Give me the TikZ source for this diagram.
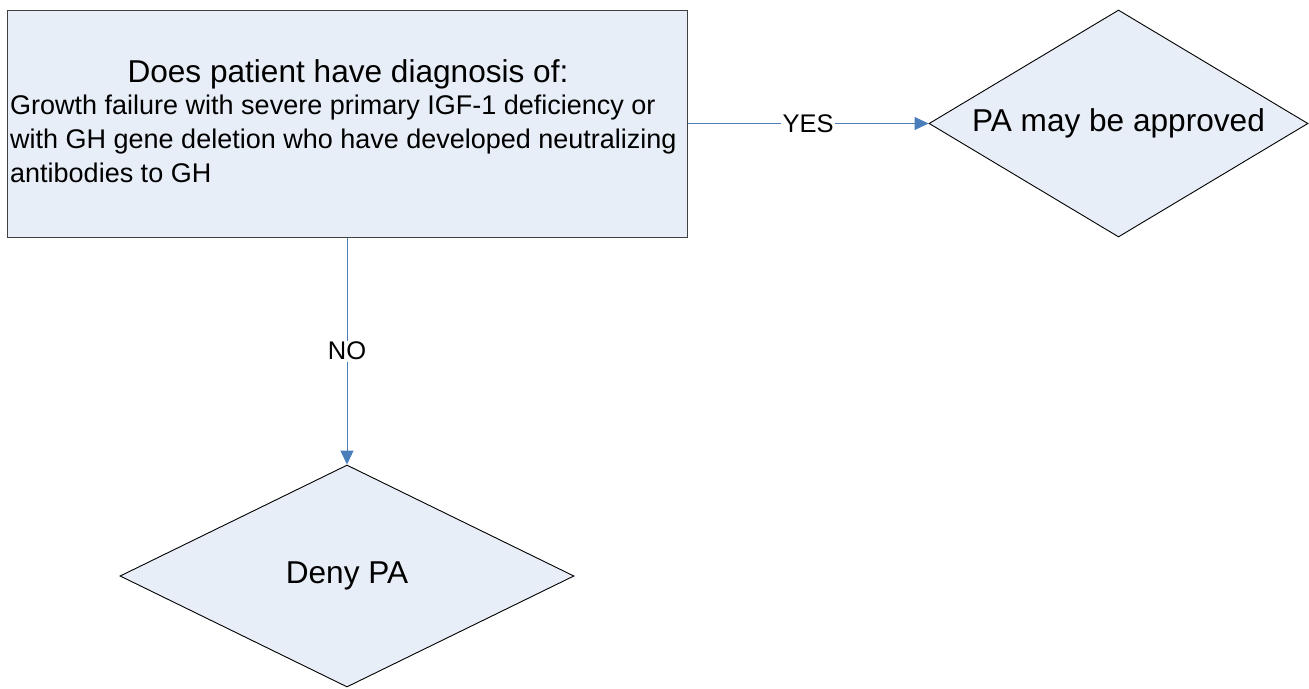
\documentclass[tikz,border=0pt]{standalone}
\usepackage{fontspec}
\setmainfont{Liberation Sans}
\usetikzlibrary{shapes.geometric,arrows.meta}
\definecolor{boxfill}{RGB}{232,238,247}
\definecolor{linkblue}{RGB}{74,126,187}
\begin{document}
\begin{tikzpicture}[x=1pt,y=-1pt,
  box/.style={draw=black!75,line width=1pt,fill=boxfill,inner sep=0pt},
  decision/.style={shape=diamond,draw=black,line width=0.9pt,fill=boxfill,
    inner sep=0pt,aspect=1.67},
  bigtext/.style={font=\fontsize{31.6}{34}\selectfont,inner sep=0pt},
  bodytext/.style={font=\fontsize{27}{34}\selectfont,align=left,inner sep=0pt},
  lbl/.style={font=\fontsize{25.5}{28}\selectfont,fill=white,inner sep=1.5pt},
  conn/.style={draw=linkblue,line width=1pt,-{Triangle[length=14pt,width=13pt]}}
]
\useasboundingbox (0,0) rectangle (1309,688);

% question box and its text
\node[box,minimum width=680,minimum height=227] (q) at (347,123.5) {};
\node[bigtext] (qtitle) at (348,74) {Does patient have diagnosis of:};
\node[bodytext,anchor=north west] (qbody) at (10,94.5)
  {Growth failure with severe primary IGF-1 deficiency or\\
   with GH gene deletion who have developed neutralizing\\
   antibodies to GH};

% outcomes
\node[decision,minimum width=379,minimum height=227] (ok) at (1118.5,123.5)
  {\fontsize{31.6}{34}\selectfont PA may be approved};
\node[decision,minimum width=454,minimum height=222] (deny) at (347,576)
  {\fontsize{31.6}{34}\selectfont Deny PA};

% connectors
\draw[conn] (q.east) -- node[lbl] (yes) {YES} (ok.west);
\draw[conn] (q.south) -- node[lbl] (no) {NO} (deny.north);
\end{tikzpicture}
\end{document}
